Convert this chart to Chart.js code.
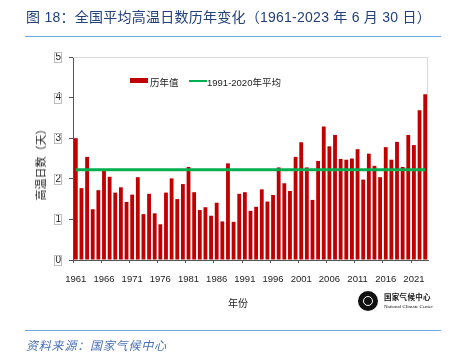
<!DOCTYPE html>
<html><head><meta charset="utf-8">
<script src="https://cdn.jsdelivr.net/npm/chart.js@4/dist/chart.umd.min.js"></script>
<style>
html,body{margin:0;padding:0;background:#fff;}
#wrap{position:relative;width:458px;height:356px;overflow:hidden;font-family:"Liberation Sans","Noto Sans CJK SC",sans-serif;}
canvas{position:absolute;left:0;top:0;}
.abs{position:absolute;white-space:nowrap;}
#title{left:26px;top:6px;font-size:14px;color:#22407c;letter-spacing:0.25px;}
#tline{left:25px;top:36px;width:416px;height:0;border-top:1.5px solid #6fa8dc;}
#fline{left:25px;top:330px;width:416px;height:0;border-top:1.5px solid #6fa8dc;}
#foot{left:26px;top:336px;font-size:12px;color:#4a70b3;font-style:italic;letter-spacing:0.8px;}
#ytitle{left:40px;top:162px;font-size:11px;color:#222;transform:translate(-50%,-50%) rotate(-90deg);}
#xtitle{left:228px;top:295px;font-size:10px;color:#222;}
.leg{font-size:9.5px;color:#222;top:75px;}
#lg1box{position:absolute;left:130px;top:78px;width:18px;height:5px;background:#c00000;}
#lg2box{position:absolute;left:189px;top:79.5px;width:18px;height:2px;background:#00b050;}
#logo{position:absolute;left:358px;top:291px;width:20px;height:20px;border-radius:50%;background:#111;}
#logo:after{content:"";position:absolute;left:5px;top:5px;width:8px;height:8px;border-radius:50%;border:1px solid #fff;}
#logot1{left:384px;top:291px;font-size:7.5px;font-weight:bold;color:#111;font-family:"Noto Sans CJK SC",serif;letter-spacing:0.3px;}
#logot2{left:384px;top:304px;font-size:5px;color:#111;font-family:"Liberation Serif",serif;}
</style></head>
<body><div id="wrap">
<canvas id="c" width="458" height="356"></canvas>
<div class="abs" id="title">图 18：全国平均高温日数历年变化（1961-2023 年 6 月 30 日）</div>
<div class="abs" id="tline"></div>
<div class="abs" id="ytitle">高温日数（天）</div>
<div class="abs" id="xtitle">年份</div>
<div id="lg1box"></div><div class="abs leg" style="left:150px">历年值</div>
<div id="lg2box"></div><div class="abs leg" style="left:207px">1991-2020年平均</div>
<div id="logo"></div>
<div class="abs" id="logot1">国家气候中心</div>
<div class="abs" id="logot2">National Climate Center</div>
<div class="abs" id="fline"></div>
<div class="abs" id="foot">资料来源：国家气候中心</div>
</div>
<script>
const years = [];
for (let y = 1961; y <= 2023; y++) years.push(String(y));
const hotDays = [
 3.00,1.77,2.54,1.25,1.72,2.20,2.05,1.66,1.79,1.43,
 1.61,2.04,1.13,1.63,1.15,0.88,1.66,2.01,1.50,1.87,
 2.29,1.67,1.23,1.30,1.09,1.41,0.95,2.38,0.94,1.63,
 1.67,1.21,1.31,1.74,1.44,1.60,2.28,1.89,1.70,2.54,
 2.90,2.28,1.48,2.44,3.29,2.80,3.08,2.49,2.47,2.50,
 2.73,1.98,2.62,2.32,2.04,2.78,2.47,2.91,2.29,3.08,
 2.83,3.69,4.08
];
const normal19912020 = 2.22;
const normalLine = years.map(() => normal19912020);
const yTicks = [0,1,2,3,4,5];

const frame = {
  id:'frame',
  beforeDatasetsDraw(chart){
    const {ctx, chartArea:a} = chart;
    ctx.save();
    ctx.strokeStyle = '#d9d9d9'; ctx.lineWidth = 1;
    ctx.beginPath();
    ctx.moveTo(a.left, a.top+0.5); ctx.lineTo(a.right-0.5, a.top+0.5); ctx.lineTo(a.right-0.5, a.bottom);
    ctx.stroke();
    ctx.restore();
  },
  afterDraw(chart){
    const {ctx} = chart;
    const ys = chart.scales.y;
    ctx.save();
    ctx.strokeStyle = '#bdbdbd'; ctx.lineWidth = 1;
    ys.ticks.forEach((t,i)=>{
      const py = ys.getPixelForTick(i);
      ctx.strokeRect(54.5, Math.round(py-5)+0.5, 7, 10);
    });
    ctx.restore();
  }
};

new Chart(document.getElementById('c'), {
  data: {
    labels: years,
    datasets: [
      {type:'line', label:'1991-2020年平均', data: normalLine, borderColor:'#00b050', borderWidth:3, pointRadius:0, order:0},
      {type:'bar', label:'历年值', data: hotDays, backgroundColor:'#c00000', barPercentage:0.68, categoryPercentage:1.0, order:1}
    ]
  },
  options: {
    responsive:false, animation:false, devicePixelRatio:1,
    layout:{padding:{left:43, right:30, top:57, bottom:0}},
    plugins:{legend:{display:false}, title:{display:false}, tooltip:{enabled:false}},
    scales:{
      x:{
        offset:true,
        grid:{offset:true, drawOnChartArea:false, drawTicks:true, tickLength:3,
              tickColor:(c)=> (c.index % 5 === 0 ? '#555' : 'rgba(0,0,0,0)')},
        border:{color:'#555', width:1},
        ticks:{autoSkip:false, maxRotation:0, minRotation:0, padding:11, color:'#222',
               font:{size:9.5, family:'"Liberation Sans", Arial, sans-serif'},
               callback:(v,i)=> (i % 5 === 0 ? years[i] : '')},
        afterFit:(s)=>{ s.height = 96; }
      },
      y:{
        min:0, max:5,
        afterBuildTicks:(s)=>{ s.ticks = yTicks.map(v=>({value:v})); },
        grid:{drawOnChartArea:false, drawTicks:true, tickLength:4, tickColor:'#555'},
        border:{color:'#555', width:1},
        ticks:{padding:8, color:'#222', font:{size:10, family:'"Liberation Sans", Arial, sans-serif'}},
        afterFit:(s)=>{ s.width = 30; }
      }
    }
  },
  plugins:[frame]
});
</script>
</body></html>
